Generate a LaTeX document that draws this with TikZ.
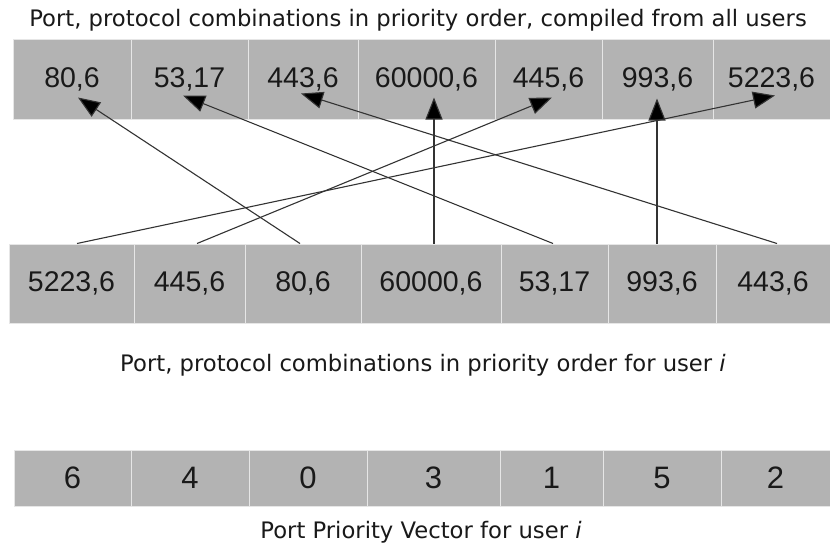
\documentclass[tikz,border=0pt]{standalone}
\usepackage{fontspec}
\setmainfont{Liberation Sans}
\newfontfamily\capfont{DejaVu Sans}
\usetikzlibrary{arrows.meta}
\definecolor{cellgray}{HTML}{B3B3B3}
\definecolor{cellline}{HTML}{E6E6E6}
\definecolor{linkgray}{HTML}{333333}
\begin{document}
\begin{tikzpicture}[x=1pt,y=-1pt,
  cell/.style={fill=cellgray,draw=cellline,line width=1pt,inner sep=0pt,
    font=\fontsize{28.5}{30}\selectfont,text=black!90},
  bigcell/.style={cell,font=\fontsize{31}{33}\selectfont},
  caption/.style={font=\capfont\fontsize{22.7}{26}\selectfont,text=black!90,inner sep=0pt},
  link/.style={draw=linkgray,line width=1.1pt,-{Triangle[length=22pt,width=17pt,fill=black]}}]
\useasboundingbox[fill=white] (0,0) rectangle (830,546);
% title
\node[caption] (title) at (418,20) {Port, protocol combinations in priority order, compiled from all users};
% top row
\foreach \a/\b/\t/\n in {13/131/{80,6}/t1,131/248/{53,17}/t2,248/358/{443,6}/t3,358/495/{60000,6}/t4,495/602/{445,6}/t5,602/713/{993,6}/t6,713/830/{5223,6}/t7}
  \node[cell,minimum width={(\b-\a)*1pt},minimum height=80pt] (\n) at ({(\a+\b)/2},79) {\t};
% middle row
\foreach \a/\b/\t/\n in {9/134/{5223,6}/m1,134/245/{445,6}/m2,245/361/{80,6}/m3,361/501/{60000,6}/m4,501/608/{53,17}/m5,608/716/{993,6}/m6,716/830/{443,6}/m7}
  \node[cell,minimum width={(\b-\a)*1pt},minimum height=79pt] (\n) at ({(\a+\b)/2},283.5) {\t};
\node[caption] (cap2) at (423,365) {Port, protocol combinations in priority order for user \textit{i}};
% bottom row
\foreach \a/\b/\t/\n in {14/131/6/b1,131/249/4/b2,249/367/0/b3,367/500/3/b4,500/603/1/b5,603/721/5/b6,721/830/2/b7}
  \node[bigcell,minimum width={(\b-\a)*1pt},minimum height=56pt] (\n) at ({(\a+\b)/2},478) {\t};
\node[caption] (cap3) at (421,532) {Port Priority Vector for user \textit{i}};
% links
\draw[link] ([xshift=-3pt]m3.north) -- ([xshift=6pt,yshift=22pt]t1.south);
\draw[link] ([xshift=-1.5pt]m5.north) -- ([xshift=-6.5pt,yshift=24pt]t2.south);
\draw[link] ([xshift=4pt]m7.north) -- ([xshift=-2pt,yshift=26pt]t3.south);
\draw[link] ([xshift=3pt]m4.north) -- ([xshift=7.5pt,yshift=22pt]t4.south);
\draw[link] ([xshift=7.5pt]m2.north) -- ([xshift=3.5pt,yshift=22pt]t5.south);
\draw[link] ([xshift=-5pt]m6.north) -- ([xshift=-0.5pt,yshift=21pt]t6.south);
\draw[link] ([xshift=5.5pt]m1.north) -- ([xshift=3.5pt,yshift=24pt]t7.south);
\end{tikzpicture}
\end{document}
